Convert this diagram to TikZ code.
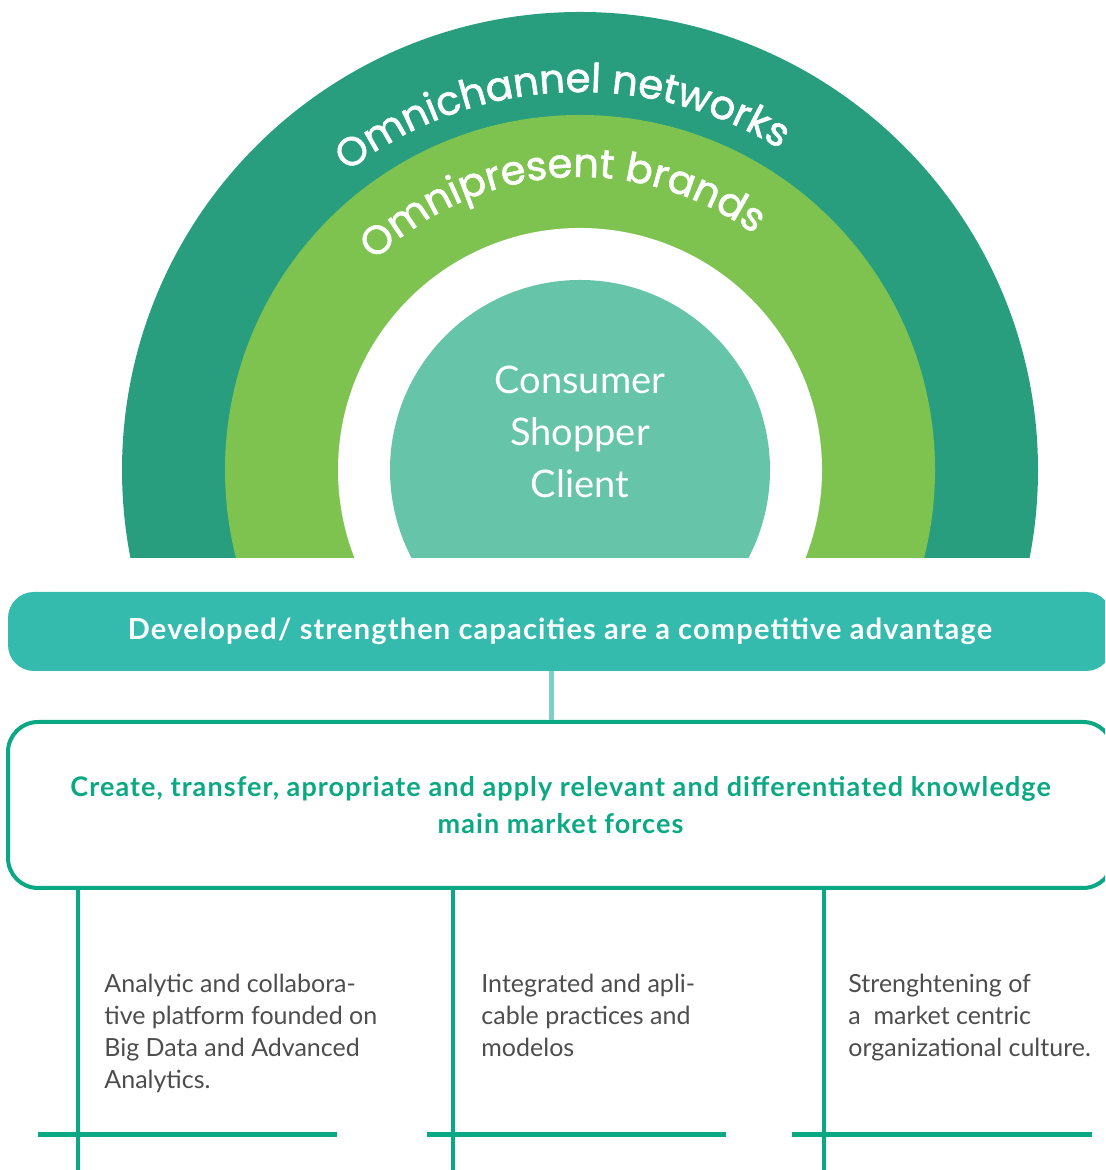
\documentclass[tikz,border=0pt]{standalone}
\usepackage{fontspec}
\setmainfont{Lato}
\newfontfamily\arcfont{Poppins}[FakeBold=1.6]
\newfontfamily\spacedfont{Lato}[LetterSpace=4]
\usetikzlibrary{decorations.text}
\definecolor{ringdark}{HTML}{289E7F}
\definecolor{ringlight}{HTML}{7EC350}
\definecolor{coremint}{HTML}{66C4A8}
\definecolor{barteal}{HTML}{34BBAE}
\definecolor{framegreen}{HTML}{0BA884}
\definecolor{stemteal}{HTML}{7ACFC6}
\definecolor{bodygray}{HTML}{4D4D4D}
\tikzset{
  ringlabel/.style={decorate, decoration={text along path, text align=center, text color=white,
    text={|\arcfont\fontsize{20}{20}\selectfont|#1}}},
  advbar/.style={fill=barteal, rounded corners=13pt, minimum width=552pt, minimum height=39.5pt,
    text=white, font=\spacedfont\fontsize{14.5}{16}\selectfont\bfseries},
  knowbox/.style={draw=framegreen, line width=2pt, rounded corners=15pt, minimum width=552.5pt,
    minimum height=83pt, align=center, text=framegreen, font=\spacedfont\fontsize{13.5}{18.5}\selectfont\bfseries},
  coltext/.style={anchor=north west, inner sep=0pt, align=left, text=bodygray},
  leg/.style={framegreen, line width=1.6pt},
  foot/.style={framegreen, line width=2.5pt}
}
\begin{document}
\begin{tikzpicture}[font=\fontsize{12.5}{16}\selectfont, x=0.5pt, y=0.5pt]
\useasboundingbox (0,0) rectangle (1105,1170);
\clip (0,0) rectangle (1105,1170);
% rings, cut off flat at the bottom
\begin{scope}
\clip (0,612) rectangle (1105,1170);
\fill[ringdark] (580,700) circle (458);
\fill[ringlight] (580,700) circle (355);
\fill[white] (580,700) circle (242);
\node[circle, fill=coremint, minimum size=190pt, inner sep=0pt] (core) at (580,700) {};
\end{scope}
\node[align=center, text=white, font=\fontsize{19}{26}\selectfont] (coretext) at (580,738) {Consumer\\Shopper\\Client};
\path[ringlabel=Omnichannel networks] (580,700) ++(186:378) arc[start angle=186, end angle=0, radius=378];
\path[ringlabel=Omnipresent brands] (580,700) ++(188:293) arc[start angle=188, end angle=0, radius=293];
% capacities and knowledge
\node[advbar] (advantage) at (560,538.5) {Developed/ strengthen capacities are a competitive advantage};
\node[knowbox] (knowledge) at (560.5,365) {Create, transfer, apropriate and apply relevant and differentiated knowledge\\main market forces};
\coordinate (stem) at (551,0);
\draw[stemteal, line width=2.5pt] (advantage.south -| stem) -- (knowledge.north -| stem);
% three pillars
\foreach \c/\x/\l/\r in {1/78/38/337, 2/453/427/726, 3/824/792/1092} {
  \coordinate (leg\c) at (\x,0);
  \coordinate (footl\c) at (\l,35);
  \coordinate (footr\c) at (\r,35);
  \draw[leg] (knowledge.south -| leg\c) -- (leg\c);
  \draw[foot] (footl\c) -- (footr\c);
}
\node[coltext] (col1) at (104,196) {Analytic and collabora-\\tive platform founded on\\Big Data and Advanced\\Analytics.};
\node[coltext] (col2) at (481,196) {Integrated and apli-\\cable practices and\\modelos};
\node[coltext] (col3) at (848,196) {Strenghtening of\\a\ \ market centric\\organizational culture.};
\end{tikzpicture}
\end{document}
